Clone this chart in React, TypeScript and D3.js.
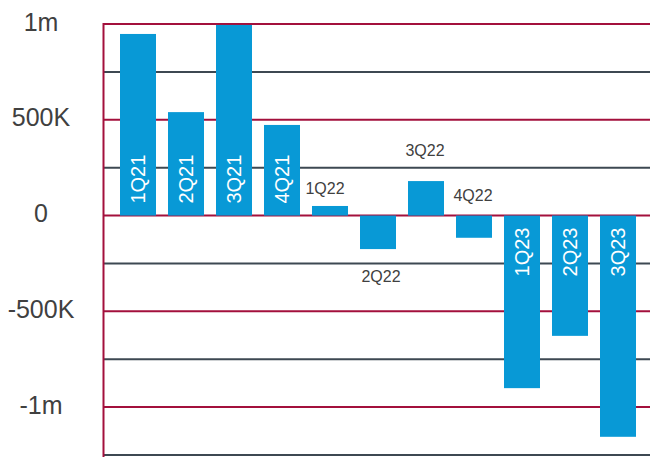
import React from "react";
import * as d3 from "d3";

const categories = ["1Q21", "2Q21", "3Q21", "4Q21", "1Q22", "2Q22", "3Q22", "4Q22", "1Q23", "2Q23", "3Q23"];
const values = [948000, 540000, 995000, 473000, 50000, -175000, 180000, -116000, -901000, -628000, -1155000];
const yTicks = [1000000, 750000, 500000, 250000, 0, -250000, -500000, -750000, -1000000, -1250000];
const yTickLabels: Record<string, string> = { "1000000": "1m", "500000": "500K", "0": "0", "-500000": "-500K", "-1000000": "-1m" };
// label layout: "in" = rotated inside bar, otherwise outside with nudge [dx, dy from anchor]
const labelMode = ["in", "in", "in", "in", "top", "bottom", "top", "zero", "in", "in", "in"];
const labelNudge: [number, number][] = [[0, 0], [0, 0], [0, 0], [0, 0], [-5, -12], [3, 33], [-1, -25], [-1, -15], [0, 0], [0, 0], [0, 0]];

const W = 650, H = 457;
const BAR = "#0899d6";
const MAROON = "#a3103c";
const GRAY = "#3d4852";
const TEXT = "#404040";
const FONT = "Liberation Sans, Arial, sans-serif";

export default function App() {
  const x = d3.scaleBand<string>().domain(categories).range([114, 642]).paddingInner(0.25).paddingOuter(0.125);
  const y = d3.scaleLinear().domain([-1250000, 1000000]).range([455, 24]);
  const y0 = y(0);
  return (
    <svg width={W} height={H} style={{ position: "absolute", left: 0, top: 0, background: "#fff" }}>
      {yTicks.map((t, i) => {
        const major = i % 2 === 0;
        return (
          <line key={t} x1={104} x2={W} y1={y(t)} y2={y(t)} stroke={major ? MAROON : GRAY} strokeWidth={2} />
        );
      })}
      <line x1={103.5} x2={103.5} y1={y(1000000) - 1} y2={H} stroke={MAROON} strokeWidth={2} />
      {yTicks.filter((t) => yTickLabels[String(t)] !== undefined).map((t) => (
        <text key={t} x={41} y={y(t)} dy={6.5} textAnchor="middle" fontFamily={FONT} fontSize={25} fill={TEXT}>
          {yTickLabels[String(t)]}
        </text>
      ))}
      {categories.map((c, i) => {
        const v = values[i];
        const x0 = x(c) as number;
        const yt = Math.min(y(v), y0);
        const h = Math.abs(y(v) - y0);
        return <rect key={c} x={x0} y={yt} width={x.bandwidth()} height={h} fill={BAR} />;
      })}
      {categories.map((c, i) => {
        const v = values[i];
        const cx = (x(c) as number) + x.bandwidth() / 2;
        const mode = labelMode[i];
        if (mode === "in") {
          const pos = v >= 0;
          const ay = pos ? y0 - 12 : y0 + 12;
          return (
            <text key={c} transform={`translate(${cx + 7},${ay}) rotate(-90)`} textAnchor={pos ? "start" : "end"}
              fontFamily={FONT} fontSize={20} fill="#fff">
              {c}
            </text>
          );
        }
        const [dx, dy] = labelNudge[i];
        const anchorY = mode === "zero" ? y0 : y(v);
        return (
          <text key={c} x={cx + dx} y={anchorY + dy} textAnchor="middle" fontFamily={FONT} fontSize={16} fill={TEXT}>
            {c}
          </text>
        );
      })}
    </svg>
  );
}
